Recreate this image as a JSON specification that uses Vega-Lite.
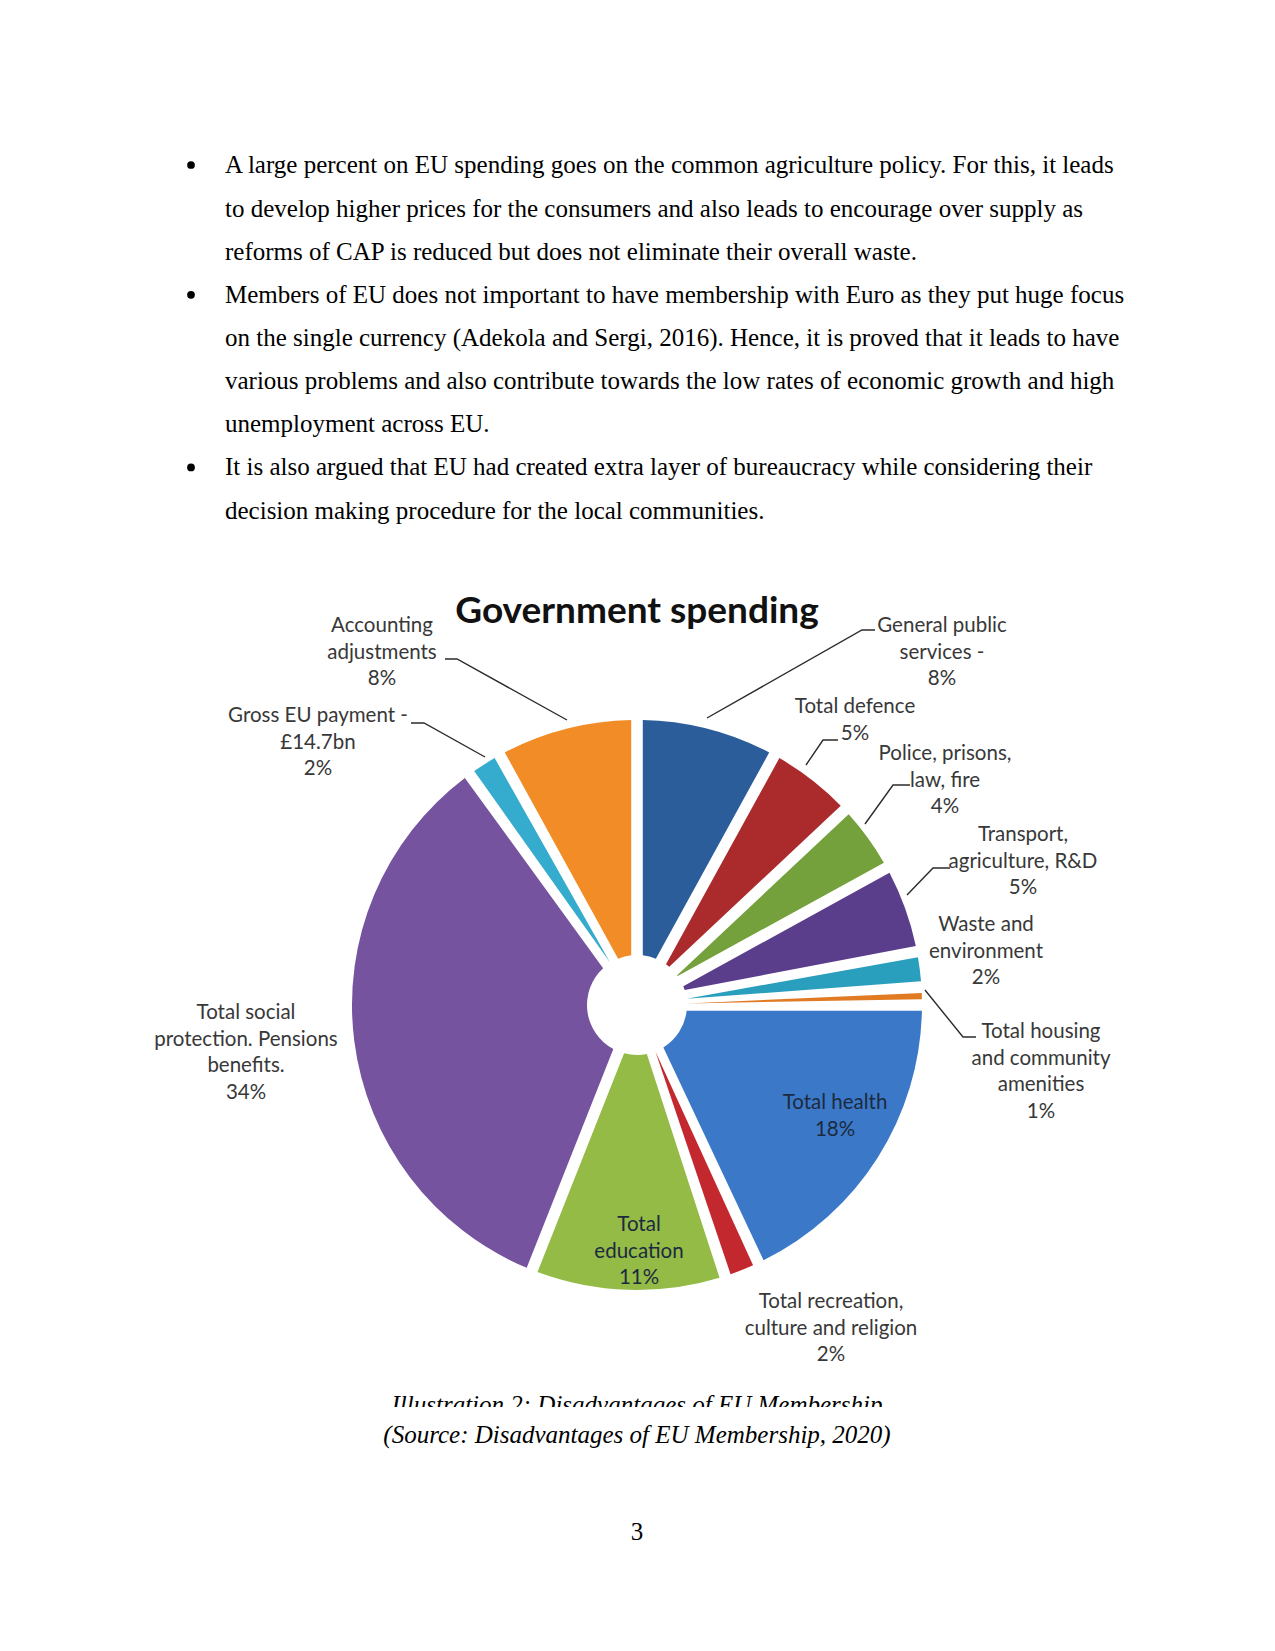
{
  "$schema": "https://vega.github.io/schema/vega-lite/v6.json",
  "width": 1275,
  "height": 1651,
  "autosize": {"type": "fit", "contains": "padding"},
  "padding": 0,
  "background": "white",
  "config": {"view": {"stroke": null}},
  "datasets": {
    "spending": [
      {"idx": 1, "category": "General public services", "pct": 8},
      {"idx": 2, "category": "Total defence", "pct": 5},
      {"idx": 3, "category": "Police, prisons, law, fire", "pct": 4},
      {"idx": 4, "category": "Transport, agriculture, R&D", "pct": 5},
      {"idx": 5, "category": "Waste and environment", "pct": 2},
      {"idx": 6, "category": "Total housing and community amenities", "pct": 1},
      {"idx": 7, "category": "Total health", "pct": 18},
      {"idx": 8, "category": "Total recreation, culture and religion", "pct": 2},
      {"idx": 9, "category": "Total education", "pct": 11},
      {"idx": 10, "category": "Total social protection. Pensions benefits.", "pct": 34},
      {"idx": 11, "category": "Gross EU payment - £14.7bn", "pct": 2},
      {"idx": 12, "category": "Accounting adjustments", "pct": 8}
    ],
    "labels": [
      {"text": "Accounting\nadjustments\n8%", "px": 382, "py": 626, "place": "outside"},
      {"text": "Gross EU payment -\n£14.7bn\n2%", "px": 318, "py": 716, "place": "outside"},
      {"text": "General public\nservices -\n8%", "px": 942, "py": 626, "place": "outside"},
      {"text": "Total defence\n5%", "px": 855, "py": 707, "place": "outside"},
      {"text": "Police, prisons,\nlaw, fire\n4%", "px": 945, "py": 754, "place": "outside"},
      {"text": "Transport,\nagriculture, R&D\n5%", "px": 1023, "py": 835, "place": "outside"},
      {"text": "Waste and\nenvironment\n2%", "px": 986, "py": 925, "place": "outside"},
      {"text": "Total housing\nand community\namenities\n1%", "px": 1041, "py": 1032, "place": "outside"},
      {"text": "Total health\n18%", "px": 835, "py": 1103, "place": "inside"},
      {"text": "Total\neducation\n11%", "px": 639, "py": 1225, "place": "inside"},
      {"text": "Total recreation,\nculture and religion\n2%", "px": 831, "py": 1302, "place": "outside"},
      {"text": "Total social\nprotection. Pensions\nbenefits.\n34%", "px": 246, "py": 1013, "place": "outside"}
    ],
    "leaders": [
      {"id": "acc", "seq": 1, "px": 445, "py": 659},
      {"id": "acc", "seq": 2, "px": 457, "py": 659},
      {"id": "acc", "seq": 3, "px": 567, "py": 720},
      {"id": "gro", "seq": 1, "px": 411, "py": 723},
      {"id": "gro", "seq": 2, "px": 424, "py": 723},
      {"id": "gro", "seq": 3, "px": 485, "py": 757},
      {"id": "gps", "seq": 1, "px": 875, "py": 630},
      {"id": "gps", "seq": 2, "px": 862, "py": 630},
      {"id": "gps", "seq": 3, "px": 707, "py": 718},
      {"id": "def", "seq": 1, "px": 838, "py": 740},
      {"id": "def", "seq": 2, "px": 823, "py": 740},
      {"id": "def", "seq": 3, "px": 806, "py": 765},
      {"id": "pol", "seq": 1, "px": 910, "py": 785},
      {"id": "pol", "seq": 2, "px": 893, "py": 785},
      {"id": "pol", "seq": 3, "px": 865, "py": 824},
      {"id": "tra", "seq": 1, "px": 950, "py": 868},
      {"id": "tra", "seq": 2, "px": 933, "py": 868},
      {"id": "tra", "seq": 3, "px": 907, "py": 895},
      {"id": "hou", "seq": 1, "px": 925, "py": 990},
      {"id": "hou", "seq": 2, "px": 963, "py": 1037},
      {"id": "hou", "seq": 3, "px": 976, "py": 1037}
    ],
    "body": [
      {"text": "A large percent on EU spending goes on the common agriculture policy. For this, it leads", "py": 165},
      {"text": "to develop higher prices for the consumers and also leads to encourage over supply as", "py": 208.5},
      {"text": "reforms of CAP is reduced but does not eliminate their overall waste.", "py": 251.6},
      {"text": "Members of EU does not important to have membership with Euro as they put huge focus", "py": 294.8},
      {"text": "on the single currency (Adekola and Sergi, 2016). Hence, it is proved that it leads to have", "py": 338},
      {"text": "various problems and also contribute towards the low rates of economic growth and high", "py": 381.1},
      {"text": "unemployment across EU.", "py": 424.3},
      {"text": "It is also argued that EU had created extra layer of bureaucracy while considering their", "py": 467.4},
      {"text": "decision making procedure for the local communities.", "py": 510.6}
    ],
    "bullets": [
      {"py": 165},
      {"py": 294.8},
      {"py": 467.4}
    ]
  },
  "layer": [
    {
      "data": {"name": "spending"},
      "mark": {"type": "arc", "outerRadius": 285, "innerRadius": 50, "padAngle": 0.04},
      "encoding": {
        "x": {"datum": 637, "type": "quantitative", "scale": {"domain": [0, 1275], "nice": false, "zero": false}, "axis": null},
        "y": {"datum": 1005, "type": "quantitative", "scale": {"domain": [0, 1651], "nice": false, "zero": false, "reverse": true}, "axis": null},
        "theta": {"field": "pct", "type": "quantitative", "stack": true},
        "order": {"field": "idx", "type": "quantitative"},
        "color": {
          "field": "category",
          "type": "nominal",
          "sort": null,
          "legend": null,
          "scale": {
            "domain": ["General public services", "Total defence", "Police, prisons, law, fire", "Transport, agriculture, R&D", "Waste and environment", "Total housing and community amenities", "Total health", "Total recreation, culture and religion", "Total education", "Total social protection. Pensions benefits.", "Gross EU payment - £14.7bn", "Accounting adjustments"],
            "range": ["#2c5d9b", "#ab2b2d", "#74a13b", "#5a3d8b", "#2a9fbd", "#e07b24", "#3b79c8", "#c4282f", "#94bb46", "#75539f", "#35abce", "#f28c26"]
          }
        }
      }
    },
    {
      "data": {"name": "leaders"},
      "mark": {"type": "line", "color": "#2b2b2b", "strokeWidth": 1.4},
      "encoding": {
        "x": {"field": "px", "type": "quantitative"},
        "y": {"field": "py", "type": "quantitative"},
        "detail": {"field": "id"},
        "order": {"field": "seq", "type": "quantitative"}
      }
    },
    {
      "data": {"name": "labels"},
      "transform": [{"filter": "datum.place === 'outside'"}],
      "mark": {"type": "text", "align": "center", "baseline": "middle", "lineBreak": "\n", "lineHeight": 26.7, "font": "Lato", "fontSize": 20.5, "color": "#383838"},
      "encoding": {
        "x": {"field": "px", "type": "quantitative"},
        "y": {"field": "py", "type": "quantitative"},
        "text": {"field": "text"}
      }
    },
    {
      "data": {"name": "labels"},
      "transform": [{"filter": "datum.place === 'inside'"}],
      "mark": {"type": "text", "align": "center", "baseline": "middle", "lineBreak": "\n", "lineHeight": 26.7, "font": "Lato", "fontSize": 20.5, "color": "#1c2a40"},
      "encoding": {
        "x": {"field": "px", "type": "quantitative"},
        "y": {"field": "py", "type": "quantitative"},
        "text": {"field": "text"}
      }
    },
    {
      "data": {"values": [{"text": "Government spending", "px": 637, "py": 612}]},
      "mark": {"type": "text", "align": "center", "baseline": "middle", "font": "Lato", "fontWeight": "bold", "fontSize": 37, "color": "#111111"},
      "encoding": {
        "x": {"field": "px", "type": "quantitative"},
        "y": {"field": "py", "type": "quantitative"},
        "text": {"field": "text"}
      }
    },
    {
      "data": {"name": "body"},
      "mark": {"type": "text", "align": "left", "baseline": "middle", "font": "Liberation Serif", "fontSize": 25, "color": "#000000"},
      "encoding": {
        "x": {"datum": 225, "type": "quantitative"},
        "y": {"field": "py", "type": "quantitative"},
        "text": {"field": "text"}
      }
    },
    {
      "data": {"name": "bullets"},
      "mark": {"type": "point", "shape": "circle", "filled": true, "size": 60, "color": "#000000", "opacity": 1},
      "encoding": {
        "x": {"datum": 191, "type": "quantitative"},
        "y": {"field": "py", "type": "quantitative"}
      }
    },
    {
      "data": {"values": [
        {"text": "Illustration 2: Disadvantages of EU Membership", "py": 1413}
      ]},
      "mark": {"type": "text", "align": "center", "baseline": "alphabetic", "font": "Liberation Serif", "fontStyle": "italic", "fontSize": 25, "color": "#000000"},
      "encoding": {
        "x": {"datum": 637, "type": "quantitative"},
        "y": {"field": "py", "type": "quantitative"},
        "text": {"field": "text"}
      }
    },
    {
      "data": {"values": [{"x1": 300, "x2": 980, "y1": 1407, "y2": 1420}]},
      "mark": {"type": "rect", "color": "white"},
      "encoding": {
        "x": {"field": "x1", "type": "quantitative"},
        "x2": {"field": "x2"},
        "y": {"field": "y1", "type": "quantitative"},
        "y2": {"field": "y2"}
      }
    },
    {
      "data": {"values": [{"text": "(Source: Disadvantages of EU Membership, 2020)", "py": 1443}]},
      "mark": {"type": "text", "align": "center", "baseline": "alphabetic", "font": "Liberation Serif", "fontStyle": "italic", "fontSize": 25, "color": "#000000"},
      "encoding": {
        "x": {"datum": 637, "type": "quantitative"},
        "y": {"field": "py", "type": "quantitative"},
        "text": {"field": "text"}
      }
    },
    {
      "data": {"values": [{"text": "3", "py": 1532}]},
      "mark": {"type": "text", "align": "center", "baseline": "middle", "font": "Liberation Serif", "fontSize": 25, "color": "#000000"},
      "encoding": {
        "x": {"datum": 637, "type": "quantitative"},
        "y": {"field": "py", "type": "quantitative"},
        "text": {"field": "text"}
      }
    }
  ]
}
